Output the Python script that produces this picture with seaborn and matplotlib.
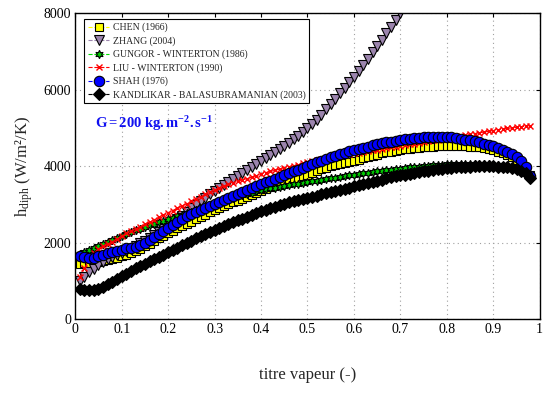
import matplotlib
matplotlib.use("Agg")
import matplotlib.pyplot as plt
import seaborn as sns

# ======= DATA =======
x = [0.01, 0.02, 0.03, 0.04, 0.05, 0.06, 0.07, 0.08, 0.09, 0.10,
     0.11, 0.12, 0.13, 0.14, 0.15, 0.16, 0.17, 0.18, 0.19, 0.20,
     0.21, 0.22, 0.23, 0.24, 0.25, 0.26, 0.27, 0.28, 0.29, 0.30,
     0.31, 0.32, 0.33, 0.34, 0.35, 0.36, 0.37, 0.38, 0.39, 0.40,
     0.41, 0.42, 0.43, 0.44, 0.45, 0.46, 0.47, 0.48, 0.49, 0.50,
     0.51, 0.52, 0.53, 0.54, 0.55, 0.56, 0.57, 0.58, 0.59, 0.60,
     0.61, 0.62, 0.63, 0.64, 0.65, 0.66, 0.67, 0.68, 0.69, 0.70,
     0.71, 0.72, 0.73, 0.74, 0.75, 0.76, 0.77, 0.78, 0.79, 0.80,
     0.81, 0.82, 0.83, 0.84, 0.85, 0.86, 0.87, 0.88, 0.89, 0.90,
     0.91, 0.92, 0.93, 0.94, 0.95, 0.96, 0.97, 0.98]

chen = [1450, 1460, 1470, 1480, 1500, 1520, 1550, 1580, 1610, 1650,
        1690, 1740, 1790, 1840, 1900, 1970, 2040, 2110, 2180, 2250,
        2310, 2370, 2430, 2490, 2550, 2610, 2670, 2730, 2790, 2850,
        2900, 2950, 3000, 3050, 3100, 3150, 3200, 3250, 3300, 3350,
        3400, 3450, 3500, 3540, 3580, 3620, 3660, 3700, 3740, 3780,
        3825, 3870, 3915, 3960, 4000, 4030, 4060, 4090, 4110, 4140,
        4170, 4200, 4240, 4270, 4300, 4330, 4360, 4380, 4400, 4420,
        4440, 4460, 4475, 4485, 4495, 4505, 4510, 4515, 4520, 4520,
        4520, 4520, 4520, 4515, 4510, 4505, 4495, 4480, 4455, 4420,
        4380, 4340, 4290, 4240, 4170, 4080, 3960, 3760]

zhang = [1000, 1110, 1220, 1320, 1410, 1490, 1560, 1620, 1670, 1720,
         1780, 1840, 1910, 1980, 2050, 2130, 2210, 2290, 2380, 2460,
         2540, 2620, 2700, 2800, 2900, 2990, 3080, 3170, 3260, 3340,
         3420, 3500, 3580, 3660, 3740, 3820, 3900, 3975, 4055, 4135,
         4215, 4295, 4370, 4445, 4525, 4610, 4700, 4800, 4900, 5000,
         5100, 5210, 5340, 5480, 5620, 5760, 5900, 6040, 6190, 6340,
         6490, 6650, 6810, 6970, 7130, 7300, 7470, 7640, 7820, 8000,
         8180, 8370]

gungor = [1700, 1760, 1810, 1870, 1920, 1970, 2020, 2070, 2120, 2170,
          2220, 2270, 2320, 2360, 2400, 2450, 2490, 2530, 2570, 2610,
          2650, 2690, 2730, 2770, 2810, 2850, 2890, 2930, 2970, 3010,
          3050, 3090, 3130, 3170, 3210, 3250, 3280, 3310, 3340, 3370,
          3400, 3420, 3440, 3460, 3480, 3500, 3520, 3540, 3560, 3580,
          3600, 3620, 3640, 3660, 3680, 3700, 3720, 3740, 3760, 3780,
          3800, 3815, 3830, 3845, 3860, 3875, 3890, 3905, 3920, 3935,
          3950, 3965, 3980, 3990, 4000, 4010, 4020, 4030, 4040, 4045,
          4050, 4055, 4060, 4065, 4065, 4065, 4060, 4055, 4050, 4040,
          4030, 4015, 4000, 3980, 3950, 3910, 3850, 3740]

liu = [1100, 1330, 1560, 1730, 1830, 1900, 1960, 2030, 2100, 2170,
       2240, 2300, 2360, 2420, 2480, 2540, 2600, 2660, 2720, 2780,
       2840, 2900, 2960, 3020, 3080, 3140, 3200, 3260, 3320, 3380,
       3430, 3480, 3530, 3570, 3610, 3640, 3675, 3710, 3750, 3790,
       3830, 3860, 3890, 3920, 3950, 3980, 4010, 4040, 4070, 4100,
       4130, 4160, 4190, 4210, 4230, 4250, 4270, 4290, 4310, 4330,
       4350, 4370, 4390, 4410, 4430, 4450, 4470, 4490, 4510, 4530,
       4550, 4570, 4590, 4610, 4630, 4650, 4670, 4690, 4710, 4730,
       4750, 4770, 4790, 4810, 4830, 4850, 4870, 4890, 4910, 4930,
       4950, 4970, 4985, 5000, 5015, 5030, 5045, 5060]

shah = [1640, 1630, 1600, 1600, 1640, 1680, 1720, 1760, 1790, 1820,
        1850, 1870, 1890, 1930, 1990, 2070, 2150, 2230, 2310, 2390,
        2470, 2550, 2620, 2690, 2750, 2810, 2860, 2910, 2950, 3000,
        3050, 3110, 3170, 3230, 3280, 3330, 3380, 3430, 3480, 3530,
        3580, 3620, 3670, 3710, 3760, 3810, 3860, 3910, 3960, 4010,
        4050, 4100, 4140, 4190, 4230, 4270, 4310, 4350, 4390, 4420,
        4450, 4480, 4510, 4540, 4570, 4600, 4620, 4640, 4660, 4680,
        4700, 4720, 4735, 4745, 4755, 4760, 4765, 4765, 4765, 4760,
        4750, 4735, 4715, 4695, 4670, 4645, 4620, 4590, 4555, 4520,
        4480, 4430, 4380, 4320, 4240, 4140, 3980, 3740]

kandlikar = [790, 770, 760, 770, 800, 850, 910, 980, 1050, 1120,
             1190, 1260, 1330, 1390, 1450, 1510, 1570, 1630, 1690, 1750,
             1810, 1870, 1930, 1990, 2050, 2110, 2170, 2220, 2270, 2330,
             2380, 2430, 2480, 2530, 2580, 2630, 2680, 2730, 2780, 2820,
             2860, 2900, 2940, 2980, 3020, 3050, 3080, 3110, 3140, 3170,
             3200, 3230, 3260, 3290, 3320, 3350, 3380, 3410, 3440, 3470,
             3500, 3530, 3560, 3590, 3620, 3650, 3680, 3705, 3730, 3755,
             3780, 3800, 3820, 3840, 3860, 3880, 3900, 3915, 3930, 3945,
             3955, 3965, 3975, 3985, 3990, 3995, 4000, 4000, 4000, 3995,
             3990, 3980, 3965, 3945, 3920, 3880, 3810, 3700]

x_ticks = [0, 0.1, 0.2, 0.3, 0.4, 0.5, 0.6, 0.7, 0.8, 0.9, 1]
x_tick_labels = ["0", "0.1", "0.2", "0.3", "0.4", "0.5", "0.6", "0.7", "0.8", "0.9", "1"]
y_ticks = [0, 2000, 4000, 6000, 8000]
# ===================================================

sns.set_style("white")
plt.rcParams["font.family"] = ["Liberation Serif", "DejaVu Serif"]
plt.rcParams["mathtext.fontset"] = "custom"
plt.rcParams["mathtext.rm"] = "Liberation Serif"
plt.rcParams["mathtext.it"] = "Liberation Serif:italic"
plt.rcParams["mathtext.bf"] = "Liberation Serif:bold"

fig = plt.figure(figsize=(5.53, 3.96), dpi=100)
ax = fig.add_axes([0.136, 0.194, 0.840, 0.773])

# (values, label, line color, marker, marker size, face color)
series = [
    (chen, "CHEN (1966)", "#FFFF00", "s", 5.5, "#FFFF00"),
    (zhang, "ZHANG (2004)", "#9B84AD", "v", 7.0, "#9B84AD"),
    (gungor, "GUNGOR - WINTERTON (1986)", "#00DD00", (6, 1, 0), 6.0, "#00CC00"),
    (liu, "LIU - WINTERTON (1990)", "#FF0000", "x", 5.0, "none"),
    (shah, "SHAH (1976)", "#0000FF", "o", 7.5, "#0000FF"),
    (kandlikar, "KANDLIKAR - BALASUBRAMANIAN (2003)", "#000000", "D", 6.5, "#000000"),
]

for vals, lab, col, mk, ms, fc in series:
    edge = "#FF0000" if mk == "x" else "black"
    sns.lineplot(x=x[:len(vals)], y=vals, ax=ax, color=col, linestyle="--",
                 linewidth=0.8, marker=mk, markersize=ms, markerfacecolor=fc,
                 markeredgecolor=edge, markeredgewidth=0.8 if mk != "x" else 1.0,
                 label=lab, sort=False, estimator=None)

ax.set_xlim(0, 1)
ax.set_ylim(0, 8000)
ax.set_xticks(x_ticks)
ax.set_xticklabels(x_tick_labels)
ax.set_yticks(y_ticks)
ax.tick_params(direction="in", top=True, right=True, length=3, width=0.8,
               labelsize=10, colors="black", pad=3)
ax.grid(True, linestyle=(0, (1, 3)), color="#A0A0A0", linewidth=0.8)
for sp in ax.spines.values():
    sp.set_color("black")
    sp.set_linewidth(1.0)

ax.set_xlabel("titre vapeur (-)", fontsize=12, labelpad=22)
ax.set_ylabel(r"h$_{\mathrm{diph}}$ (W/m²/K)", fontsize=12, labelpad=6)

ax.text(0.043, 5100, r"$\mathbf{G = 200\ kg.m^{-2}.s^{-1}}$", color="#1010F0",
        fontsize=10.5, ha="left", va="center")

leg = ax.legend(loc="upper left", bbox_to_anchor=(0.02, 0.98), fontsize=7,
                frameon=True, fancybox=False, edgecolor="black", framealpha=1,
                handlelength=2.2, handletextpad=0.4, labelspacing=0.4,
                borderpad=0.35, borderaxespad=0)
leg.get_frame().set_linewidth(0.8)

plt.savefig("out.png", dpi=100)
